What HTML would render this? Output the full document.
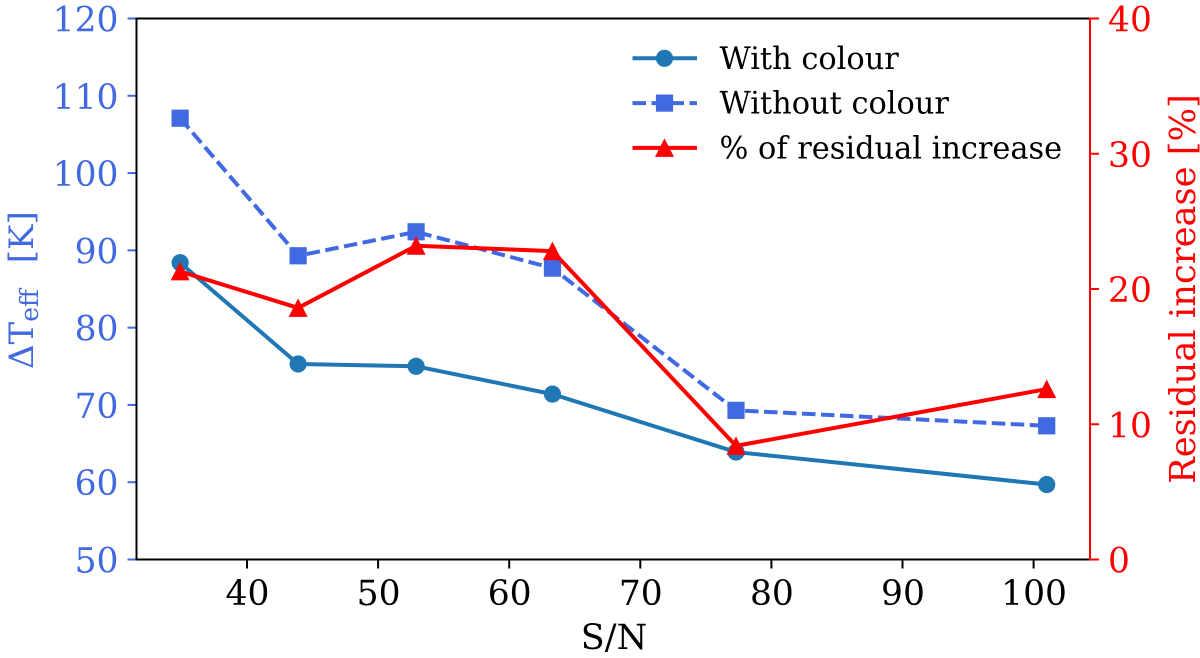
<!DOCTYPE html>
<html>
<head>
<meta charset="utf-8">
<title>Temperature residuals vs S/N</title>
<style>
html,body{margin:0;padding:0;background:#fff;width:1200px;height:658px;overflow:hidden}
svg{display:block}
text{font-family:"DejaVu Serif","Liberation Serif",serif}
</style>
</head>
<body>
<svg id="chart" width="1200" height="658" viewBox="0 0 1200 658">
<text id="ylab" transform="translate(33 369) rotate(-90)" font-size="34" fill="#4169e1">ΔT<tspan font-size="25" dy="5">eff</tspan><tspan dy="-5" dx="26">[K]</tspan></text>
<text transform="translate(1195 289) rotate(-90)" font-size="35.3" fill="#ff0000" text-anchor="middle">Residual increase [%]</text>
<text x="614" y="649" font-size="35" fill="#000" text-anchor="middle">S/N</text>
</svg>
<script>
const snr = [34.9, 43.9, 52.9, 63.3, 77.3, 101];
const withColour = [88.4, 75.3, 75.0, 71.4, 63.9, 59.7];
const withoutColour = [107.1, 89.3, 92.4, 87.7, 69.3, 67.3];
const residualIncrease = [21.3, 18.6, 23.2, 22.8, 8.4, 12.6];
const xTicks = [40, 50, 60, 70, 80, 90, 100];
const leftTicks = [50, 60, 70, 80, 90, 100, 110, 120];
const rightTicks = [0, 10, 20, 30, 40];
const legendLabels = ['With colour', 'Without colour', '% of residual increase'];

const BLUE = '#1f77b4', ROYAL = '#4169e1', RED = '#ff0000';
const L = 136.5, R = 1090, T = 18.5, B = 559.5;
const xScale = v => 247 + (v - 40) * 13.11;
const yLeft = v => B - (v - 50) / 70 * (B - T);
const yRight = v => B - v / 40 * (B - T);
const svg = document.getElementById('chart');
const NS = 'http://www.w3.org/2000/svg';

function make(tag, attrs, text) {
  const el = document.createElementNS(NS, tag);
  for (const k in attrs) el.setAttribute(k, attrs[k]);
  if (text !== undefined) el.textContent = text;
  svg.appendChild(el);
  return el;
}
function marker(kind, x, y, color) {
  if (kind === 'circle') return make('circle', {cx: x, cy: y, r: 8.6, fill: color});
  if (kind === 'square') return make('rect', {x: x - 8.6, y: y - 8.6, width: 17.2, height: 17.2, fill: color});
  return make('polygon', {points: (x) + ',' + (y - 9.5) + ' ' + (x + 9.5) + ',' + (y + 9) + ' ' + (x - 9.5) + ',' + (y + 9), fill: color});
}
function series(name, values, yFn, color, kind, dash) {
  const pts = values.map((v, i) => xScale(snr[i]) + ',' + yFn(v)).join(' ');
  const line = make('polyline', {points: pts, fill: 'none', stroke: color, 'stroke-width': 4, 'stroke-linejoin': 'round'});
  
  
  if (dash) line.setAttribute('stroke-dasharray', dash);
  values.forEach((v, i) => {
    const m = marker(kind, xScale(snr[i]), yFn(v), color);
    
    
  });
}

// x ticks
xTicks.forEach(t => {
  const tick = make('line', {x1: xScale(t), x2: xScale(t), y1: B, y2: B + 9, stroke: '#000', 'stroke-width': 2});
  
  
  const lab = make('text', {x: xScale(t) + 0.5, y: 605, 'font-size': 34.5, fill: '#000', 'text-anchor': 'middle'}, String(t));
  
  
});
// left ticks
leftTicks.forEach(t => {
  const tick = make('line', {x1: L - 9, x2: L, y1: yLeft(t), y2: yLeft(t), stroke: ROYAL, 'stroke-width': 2});
  
  
  const lab = make('text', {x: 118.5, y: yLeft(t) + 13, 'font-size': 34.5, fill: ROYAL, 'text-anchor': 'end'}, String(t));
  
  
});
// right ticks
rightTicks.forEach(t => {
  const tick = make('line', {x1: R, x2: R + 9, y1: yRight(t), y2: yRight(t), stroke: RED, 'stroke-width': 2});
  
  
  const lab = make('text', {x: 1108, y: yRight(t) + 13, 'font-size': 34.5, fill: RED}, String(t));
  
  
});

series('with-colour', withColour, yLeft, BLUE, 'circle');
series('without-colour', withoutColour, yLeft, ROYAL, 'square', '13.5 5.5');

// spines
const sT = make('line', {x1: L, x2: R, y1: T, y2: T, stroke: '#000', 'stroke-width': 2});


const sB = make('line', {x1: L, x2: R, y1: B, y2: B, stroke: '#000', 'stroke-width': 2});


const sL = make('line', {x1: L, x2: L, y1: T - 1, y2: B + 1, stroke: '#000', 'stroke-width': 2});


const sR = make('line', {x1: R, x2: R, y1: T - 1, y2: B + 1, stroke: RED, 'stroke-width': 2});



series('residual-increase', residualIncrease, yRight, RED, 'triangle');

// legend
const legendColors = [BLUE, ROYAL, RED];
const legendKinds = ['circle', 'square', 'triangle'];
const legendDash = [null, '13.5 5.5', null];
legendLabels.forEach((label, i) => {
  const y = 58.3 + i * 44.8;
  const line = make('line', {x1: 632.5, x2: 697, y1: y, y2: y, stroke: legendColors[i], 'stroke-width': 4});
  
  
  if (legendDash[i]) line.setAttribute('stroke-dasharray', legendDash[i]);
  const m = marker(legendKinds[i], 664.5, y, legendColors[i]);
  
  
  const t = make('text', {x: 719.5, y: y + 10.5, 'font-size': 30.4, fill: '#000'}, label);
  
  
});
</script>
</body>
</html>
